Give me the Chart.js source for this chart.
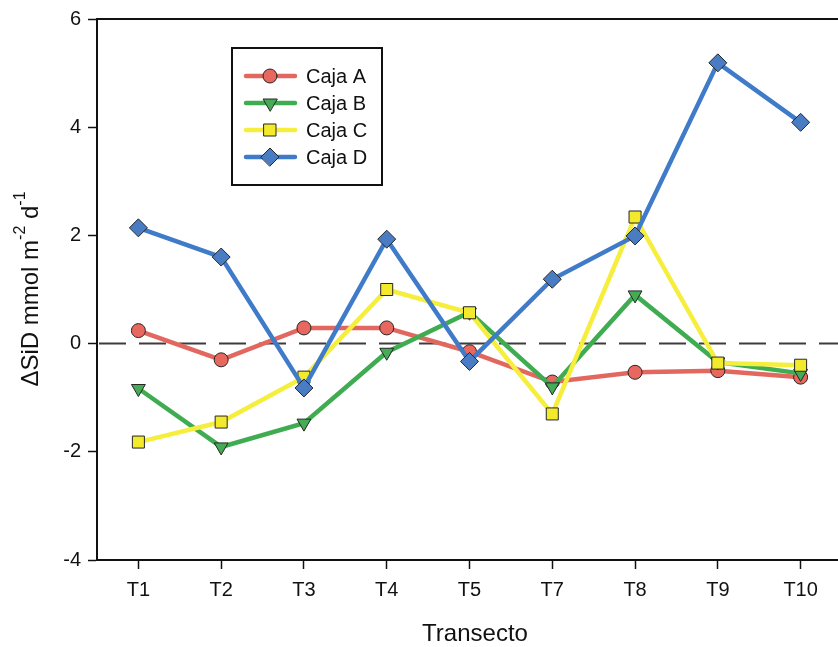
<!DOCTYPE html>
<html>
<head>
<meta charset="utf-8">
<script src="https://cdn.jsdelivr.net/npm/chart.js@4.4.1/dist/chart.umd.min.js"></script>
<style>
  html, body { margin: 0; padding: 0; background: #fff; overflow: hidden; }
  #wrap { width: 852px; height: 647px; position: relative; }
</style>
</head>
<body>
<div id="wrap"><canvas id="myChart"></canvas></div>
<script>
// data
const transects = ['T1', 'T2', 'T3', 'T4', 'T5', 'T7', 'T8', 'T9', 'T10'];
const cajaA = [0.24, -0.30, 0.29, 0.29, -0.15, -0.71, -0.53, -0.50, -0.62];
const cajaB = [-0.83, -1.91, -1.47, -0.16, 0.58, -0.80, 0.90, -0.34, -0.55];
const cajaC = [-1.82, -1.45, -0.62, 1.00, 0.57, -1.30, 2.34, -0.36, -0.40];
const cajaD = [2.14, 1.60, -0.82, 1.93, -0.33, 1.19, 1.99, 5.19, 4.09];
const yTicks = [-4, -2, 0, 2, 4, 6];

const FONT = 'Arial, "Liberation Sans", sans-serif';

function series(label, data, color, fill, style, radius, rot, order) {
  return {
    label: label,
    data: data,
    borderColor: color,
    borderWidth: 4.5,
    pointStyle: style,
    pointRadius: radius,
    pointHoverRadius: radius,
    pointRotation: rot,
    pointBackgroundColor: fill,
    pointBorderColor: '#262626',
    pointBorderWidth: 1,
    tension: 0,
    order: order
  };
}

// top frame line, dashed zero line, custom y title and legend box
const extras = {
  id: 'extras',
  beforeDatasetsDraw(chart) {
    const ctx = chart.ctx;
    const area = chart.chartArea;
    const y0 = chart.scales.y.getPixelForValue(0);
    ctx.save();
    ctx.strokeStyle = '#3c3c3c';
    ctx.lineWidth = 2;
    ctx.setLineDash([27, 13]);
    ctx.beginPath();
    ctx.moveTo(area.left + 2, y0);
    ctx.lineTo(area.right, y0);
    ctx.stroke();
    ctx.restore();
  },
  afterDraw(chart) {
    const ctx = chart.ctx;
    const area = chart.chartArea;
    ctx.save();
    // top line
    ctx.strokeStyle = '#111';
    ctx.lineWidth = 2;
    ctx.beginPath();
    ctx.moveTo(area.left - 1, area.top);
    ctx.lineTo(area.right, area.top);
    ctx.stroke();

    // x title
    ctx.fillStyle = '#111';
    ctx.font = '24px ' + FONT;
    ctx.textAlign = 'center';
    ctx.textBaseline = 'middle';
    ctx.fillText('Transecto', 475, 634);

    // y title with superscripts
    const parts = [
      ['\u0394SiD mmol m', 24, 0],
      ['-2', 16, -10],
      [' d', 24, 0],
      ['-1', 16, -10]
    ];
    let total = 0;
    parts.forEach(p => { ctx.font = p[1] + 'px ' + FONT; total += ctx.measureText(p[0]).width; });
    ctx.translate(31, 289);
    ctx.rotate(-Math.PI / 2);
    ctx.textAlign = 'left';
    ctx.textBaseline = 'middle';
    let x = -total / 2;
    parts.forEach(p => {
      ctx.font = p[1] + 'px ' + FONT;
      ctx.fillText(p[0], x, p[2]);
      x += ctx.measureText(p[0]).width;
    });
    ctx.setTransform(1, 0, 0, 1, 0, 0);

    // legend box
    ctx.strokeStyle = '#111';
    ctx.lineWidth = 2;
    ctx.strokeRect(232, 48, 150, 137);
    const rowY = [76, 103, 130, 157];
    chart.data.datasets.forEach((ds, i) => {
      const y = rowY[i];
      ctx.strokeStyle = ds.borderColor;
      ctx.lineWidth = 4.5;
      ctx.lineCap = 'round';
      ctx.beginPath();
      ctx.moveTo(246, y);
      ctx.lineTo(295, y);
      ctx.stroke();
      ctx.fillStyle = ds.pointBackgroundColor;
      ctx.strokeStyle = ds.pointBorderColor;
      ctx.lineWidth = 1;
      Chart.helpers.drawPoint(ctx, {
        pointStyle: ds.pointStyle,
        radius: ds.pointRadius,
        rotation: ds.pointRotation,
        borderWidth: 1
      }, 270, y);
      ctx.fillStyle = '#111';
      ctx.font = '20px ' + FONT;
      ctx.textAlign = 'left';
      ctx.textBaseline = 'middle';
      ctx.fillText(ds.label, 306, y + 1);
    });
    ctx.restore();
  }
};

const ctx = document.getElementById('myChart').getContext('2d');
new Chart(ctx, {
  type: 'line',
  data: {
    labels: transects,
    datasets: [
      series('Caja A', cajaA, '#e2675f', '#e8675e', 'circle', 7, 0, 3),
      series('Caja B', cajaB, '#3fac52', '#45ab55', 'triangle', 8, 180, 2),
      series('Caja C', cajaC, '#f6ee3c', '#f4ea2c', 'rect', 8.5, 0, 1),
      series('Caja D', cajaD, '#3f7bc9', '#4a7cc4', 'rectRot', 9, 0, 0)
    ]
  },
  options: {
    responsive: true,
    maintainAspectRatio: false,
    animation: false,
    events: [],
    layout: { padding: { top: 17, right: 3, left: 0, bottom: 0 } },
    plugins: {
      legend: { display: false },
      tooltip: { enabled: false }
    },
    scales: {
      x: {
        type: 'category',
        offset: true,
        border: { display: true, color: '#111', width: 2 },
        grid: { display: true, drawOnChartArea: false, drawTicks: true, tickLength: 9, tickWidth: 1.5, tickColor: '#111', offset: false },
        ticks: { color: '#111', font: { family: FONT, size: 20 }, padding: 9, autoSkip: false, maxRotation: 0 },
        afterFit(scale) { scale.height = 87; }
      },
      y: {
        min: -4,
        max: 6,
        border: { display: true, color: '#111', width: 2 },
        grid: { display: true, drawOnChartArea: false, drawTicks: true, tickLength: 9, tickWidth: 1.5, tickColor: '#111' },
        afterBuildTicks(scale) { scale.ticks = yTicks.map(v => ({ value: v })); },
        ticks: { color: '#111', font: { family: FONT, size: 20 }, padding: 7 },
        afterFit(scale) { scale.width = 97; }
      }
    }
  },
  plugins: [extras]
});
</script>
</body>
</html>
